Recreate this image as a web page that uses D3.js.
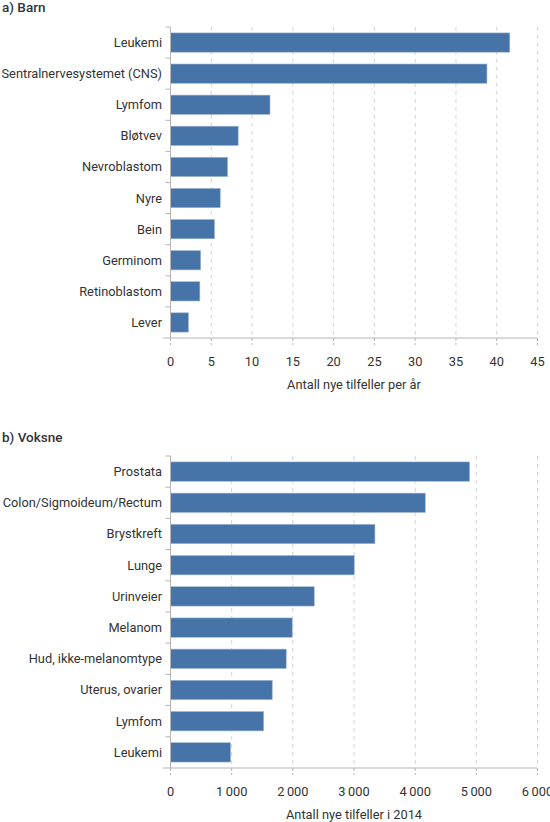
<!DOCTYPE html>
<html><head><meta charset="utf-8">
<script src="https://cdn.jsdelivr.net/npm/d3@7"></script>
<style>
body{margin:0;background:#fff;}
svg text{font-family:Roboto, "DejaVu Sans", sans-serif;fill:#333;}
</style></head>
<body>
<svg id="chart" width="550" height="822"></svg>
<script>
const barnCategories = ["Leukemi","Sentralnervesystemet (CNS)","Lymfom","Bløtvev","Nevroblastom","Nyre","Bein","Germinom","Retinoblastom","Lever"];
const barnValues = [41.6,38.8,12.2,8.3,7.0,6.1,5.4,3.7,3.6,2.2];
const barnTicks = [0,5,10,15,20,25,30,35,40,45];

const voksneCategories = ["Prostata","Colon/Sigmoideum/Rectum","Brystkreft","Lunge","Urinveier","Melanom","Hud, ikke-melanomtype","Uterus, ovarier","Lymfom","Leukemi"];
const voksneValues = [4890,4165,3342,3004,2350,1990,1892,1663,1523,983];
const voksneTicks = [0,1000,2000,3000,4000,5000,6000];

const svg = d3.select("#chart");
const fmt = v => v >= 1000 ? d3.format(",")(v).replace(/,/g, "\u2009") : String(v);

function panel(opt){
  const g = svg.append("g");
  g.append("text").attr("x", 2).attr("y", opt.titleY).attr("font-size", 13.5).attr("font-weight", 500).text(opt.title);
  const x = d3.scaleLinear().domain([0, opt.max]).range([170.5, 537.5]);
  const y = d3.scaleBand().domain(opt.cats).range([opt.top, opt.bottom]).paddingInner(0.38).paddingOuter(0.19);
  g.selectAll(".grid").data(opt.ticks.slice(1)).join("line")
    .attr("x1", d => x(d)).attr("x2", d => x(d))
    .attr("y1", opt.top).attr("y2", opt.bottom)
    .attr("stroke", "#d4d4d4").attr("stroke-dasharray", "4,4").attr("stroke-width", 1);
  g.selectAll(".bar").data(opt.vals).join("rect")
    .attr("x", x(0)).attr("y", (d,i) => y(opt.cats[i]))
    .attr("width", d => x(d) - x(0)).attr("height", y.bandwidth())
    .attr("fill", "#4674a8").attr("stroke", "#9db6d4").attr("stroke-width", 0.6);
  g.append("line").attr("x1", x(0)).attr("x2", x(0)).attr("y1", opt.top).attr("y2", opt.bottom).attr("stroke", "#b5b5b5");
  const step = y.step();
  const b = d3.range(opt.cats.length).map(i => opt.top + i * step);
  g.selectAll(".yt").data(b).join("line")
    .attr("x1", x(0) - 5).attr("x2", x(0)).attr("y1", d => d).attr("y2", d => d).attr("stroke", "#b5b5b5");
  g.selectAll(".lab").data(opt.cats).join("text")
    .attr("x", 162).attr("y", d => y(d) + y.bandwidth()/2).attr("dy", "0.35em")
    .attr("text-anchor", "end").attr("font-size", 12.8).text(d => d);
  g.append("line").attr("x1", 163).attr("x2", x(opt.max)).attr("y1", opt.bottom).attr("y2", opt.bottom).attr("stroke", "#b5b5b5");
  g.selectAll(".xt").data(opt.ticks).join("line")
    .attr("x1", d => x(d)).attr("x2", d => x(d)).attr("y1", opt.bottom).attr("y2", opt.bottom + 7)
    .attr("stroke", "#b5b5b5").attr("stroke-dasharray", "3,2");
  g.selectAll(".xl").data(opt.ticks).join("text")
    .attr("x", d => x(d)).attr("y", opt.bottom + 28).attr("text-anchor", "middle").attr("font-size", 12.8)
    .text(fmt);
  g.append("text").attr("x", (x(0) + x(opt.max))/2).attr("y", opt.bottom + 51).attr("text-anchor", "middle")
    .attr("font-size", 12.8).text(opt.axisTitle);
}

panel({title:"a) Barn", titleY:12, cats:barnCategories, vals:barnValues, ticks:barnTicks, max:45, top:27, bottom:338, axisTitle:"Antall nye tilfeller per år"});
panel({title:"b) Voksne", titleY:442, cats:voksneCategories, vals:voksneValues, ticks:voksneTicks, max:6000, top:456, bottom:768, axisTitle:"Antall nye tilfeller i 2014"});
</script>
</body></html>
